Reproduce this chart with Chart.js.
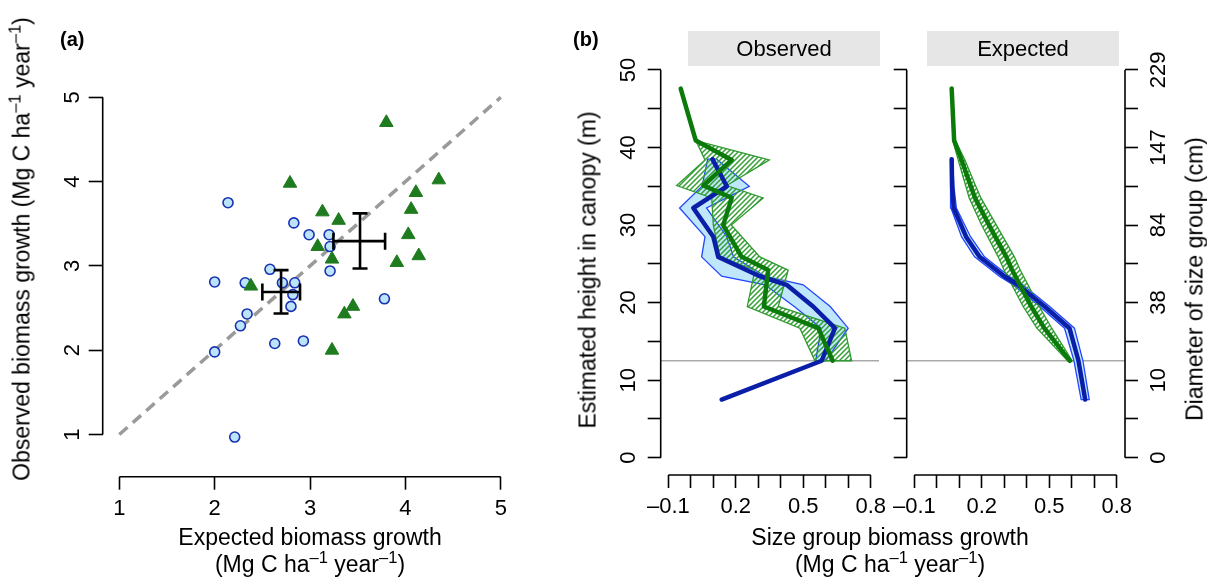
<!DOCTYPE html>
<html>
<head>
<meta charset="utf-8">
<script src="https://cdn.jsdelivr.net/npm/chart.js@4.4.1/dist/chart.umd.min.js"></script>
<style>
  body { margin: 0; background: #fff; font-family: "Liberation Sans", Arial, sans-serif; }
  #page { position: relative; width: 1207px; height: 577px; overflow: hidden; }
  #page canvas { position: absolute; left: 0; top: 0; }
  .t { position: absolute; white-space: nowrap; color: #000; font-size: 23px; line-height: 23px; }
  .rot { transform: translate(-50%, -50%) rotate(-90deg); }
  .hz { transform: translate(-50%, -50%); text-align: center; line-height: 27px; }
  sup { font-size: 0.72em; line-height: 0; vertical-align: 0.55em; }
  .strip { position: absolute; top: 31px; width: 192px; height: 35px; line-height: 35px;
           background: #e6e6e6; font-size: 22px; text-align: center; }
  .lab { position: absolute; top: 28px; font-weight: bold; font-size: 20px; line-height: 22px; }
</style>
</head>
<body>
<div id="page">
  <div class="lab" style="left:60px">(a)</div>
  <div class="lab" style="left:573px">(b)</div>
  <div class="strip" style="left:688px">Observed</div>
  <div class="strip" style="left:927px">Expected</div>
  <div class="t rot" style="left:22px;top:249px">Observed biomass growth (Mg C ha<sup>–1</sup> year<sup>–1</sup>)</div>
  <div class="t hz" style="left:310px;top:551px">Expected biomass growth<br>(Mg C ha<sup>–1</sup> year<sup>–1</sup>)</div>
  <div class="t rot" style="left:588px;top:270px">Estimated height in canopy (m)</div>
  <div class="t hz" style="left:890px;top:551px">Size group biomass growth<br>(Mg C ha<sup>–1</sup> year<sup>–1</sup>)</div>
  <div class="t rot" style="left:1195px;top:279px">Diameter of size group (cm)</div>
</div>
<script>
// ---- panel (a): plot-level growth ----
const circleX = [2.14, 2.83, 2.99, 3.20, 3.21, 2.58, 3.21, 2.00, 2.32, 2.71, 2.84, 2.82, 2.80, 3.78, 2.34, 2.27, 2.63, 2.93, 2.00, 2.21];
const circleY = [3.75, 3.51, 3.37, 3.37, 3.23, 2.96, 2.94, 2.81, 2.80, 2.80, 2.80, 2.66, 2.52, 2.61, 2.43, 2.29, 2.08, 2.11, 1.98, 0.97];
const triX = [3.80, 2.79, 4.35, 4.11, 4.06, 3.13, 3.30, 4.03, 3.08, 4.14, 3.23, 3.91, 2.38, 3.45, 3.36, 3.23];
const triY = [4.70, 3.98, 4.02, 3.87, 3.67, 3.64, 3.54, 3.37, 3.23, 3.12, 3.08, 3.04, 2.76, 2.52, 2.43, 2.00];
// group means with error bars (circles group, triangles group)
const meanX = [2.696, 3.524];
const meanY = [2.69, 3.294];
const errXlo = [2.50, 3.245];
const errXhi = [2.895, 3.787];
const errYlo = [2.436, 2.97];
const errYhi = [2.95, 3.623];
const aTicks = [1, 2, 3, 4, 5];

// ---- panel (b): size group profiles ----
const obsBlueH = [38.5, 35.0, 32.2, 28.5, 25.9, 23.4, 22.3, 19.5, 16.7, 12.5, 7.5];
const obsBlueX = [0.096, 0.16, 0.011, 0.10, 0.122, 0.307, 0.426, 0.544, 0.641, 0.582, 0.137];
const obsBlueBandH = [38.5, 35.0, 32.2, 28.5, 25.9, 23.4, 22.3, 19.5, 16.7, 12.5];
const obsBlueLo = [0.075, 0.05, -0.05, 0.063, 0.048, 0.137, 0.33, 0.46, 0.58, 0.555];
const obsBlueHi = [0.115, 0.26, 0.07, 0.16, 0.19, 0.33, 0.50, 0.62, 0.70, 0.60];

const obsGreenH = [47.6, 40.9, 38.4, 35.1, 33.5, 30.0, 25.9, 24.2, 19.5, 16.7, 12.5];
const obsGreenX = [-0.045, 0.022, 0.182, 0.056, 0.182, 0.144, 0.226, 0.344, 0.325, 0.567, 0.631];
const obsGreenBandH = [40.9, 38.4, 35.1, 33.5, 30.0, 25.9, 24.2, 19.5, 16.7, 12.5];
const obsGreenLo = [0.022, 0.063, -0.063, 0.093, 0.10, 0.13, 0.285, 0.251, 0.485, 0.552];
const obsGreenHi = [0.022, 0.349, 0.16, 0.322, 0.18, 0.307, 0.433, 0.389, 0.685, 0.715];

const expBlueX = [0.066, 0.068, 0.075, 0.13, 0.19, 0.30, 0.36, 0.48, 0.59, 0.63, 0.66];
const expBlueLo = [0.062, 0.060, 0.063, 0.11, 0.168, 0.278, 0.338, 0.458, 0.568, 0.61, 0.642];
const expBlueHi = [0.070, 0.076, 0.087, 0.15, 0.212, 0.322, 0.382, 0.502, 0.612, 0.65, 0.678];

const expGreenX = [0.066, 0.077, 0.11, 0.15, 0.17, 0.232, 0.309, 0.335, 0.42, 0.478, 0.592];
const expGreenLo = [0.071, 0.095, 0.128, 0.144, 0.199, 0.273, 0.299, 0.384, 0.445, 0.582];
const expGreenHi = [0.083, 0.125, 0.172, 0.196, 0.265, 0.345, 0.371, 0.456, 0.511, 0.602];

const minHeight = 12.5;  // horizontal reference line
const bTicks = [-0.1, 0, 0.1, 0.2, 0.3, 0.4, 0.5, 0.6, 0.7, 0.8];
const bTickLabels = ["–0.1", "", "", "0.2", "", "", "0.5", "", "", "0.8"];
const hTicks = [0, 5, 10, 15, 20, 25, 30, 35, 40, 45, 50];
const hTickLabels = ["0", "", "10", "", "20", "", "30", "", "40", "", "50"];
const diamTickLabels = ["0", "", "10", "", "38", "", "84", "", "147", "", "229"];

const BX_MIN = -0.134, BX_MAX = 0.837;

Chart.defaults.font.family = '"Liberation Sans", Arial, sans-serif';
Chart.defaults.color = "#000";

const pts = (xs, ys) => xs.map((v, i) => ({ x: v, y: ys[i] }));
const band = (hs, lo, hi) => {
  const up = hi.map((v, i) => ({ x: v, y: hs[i] }));
  const down = lo.map((v, i) => ({ x: v, y: hs[i] })).reverse();
  return up.concat(down, [up[0]]);
};

function hatch(color) {
  const c = document.createElement("canvas");
  c.width = c.height = 5;
  const g = c.getContext("2d");
  g.strokeStyle = color;
  g.lineWidth = 1.5;
  g.beginPath();
  g.moveTo(-1, 6); g.lineTo(6, -1);
  g.moveTo(-3.5, 3.5); g.lineTo(3.5, -3.5);
  g.moveTo(1.5, 8.5); g.lineTo(8.5, 1.5);
  g.stroke();
  return g.createPattern(c, "repeat");
}

// R-like axis line: only from first to last tick
const rAxis = {
  id: "rAxis",
  afterDraw(chart, args, opts) {
    const ctx = chart.ctx;
    ctx.save();
    ctx.strokeStyle = "#000";
    ctx.lineWidth = 1.6;
    (opts.ids || []).forEach((id) => {
      const s = chart.scales[id];
      const t = s.ticks;
      const a = s.getPixelForValue(t[0].value);
      const b = s.getPixelForValue(t[t.length - 1].value);
      ctx.beginPath();
      if (s.position === "left") { ctx.moveTo(s.right, a); ctx.lineTo(s.right, b); }
      else if (s.position === "right") { ctx.moveTo(s.left, a); ctx.lineTo(s.left, b); }
      else { ctx.moveTo(a, s.top); ctx.lineTo(b, s.top); }
      ctx.stroke();
    });
    ctx.restore();
  },
};

function axis(o) {
  return {
    type: "linear",
    position: o.pos,
    min: o.min,
    max: o.max,
    bounds: "data",
    border: { display: false },
    grid: { display: true, drawOnChartArea: false, drawTicks: true, tickLength: o.tl || 13, tickWidth: 1.6, tickColor: "#000" },
    ticks: {
      display: !!o.labels,
      autoSkip: false,
      color: "#000",
      font: { size: 22 },
      padding: o.pad || 0,
      minRotation: o.rot || 0,
      maxRotation: o.rot || 0,
      crossAlign: o.rot ? "center" : "near",
      callback: (v, i) => (o.labels ? o.labels[i] : ""),
    },
    afterBuildTicks: (s) => { s.ticks = o.vals.map((v) => ({ value: v })); },
    afterFit: (s) => { if (s.isHorizontal()) s.height = o.size; else s.width = o.size; },
  };
}

function addCanvas() {
  const c = document.createElement("canvas");
  c.width = 1207; c.height = 577;
  document.getElementById("page").insertBefore(c, document.getElementById("page").firstChild);
  return c;
}

const base = {
  responsive: false,
  animation: false,
  events: [],
  plugins: { legend: { display: false }, tooltip: { enabled: false } },
};

// ---- panel (a)
const aLabels = aTicks.map(String);
new Chart(addCanvas(), {
  type: "scatter",
  data: {
    datasets: [
      { data: [{ x: errXlo[0], y: meanY[0] }, { x: errXhi[0], y: meanY[0] }], showLine: true, borderColor: "#000", borderWidth: 2.6,
        pointStyle: "line", pointRotation: 90, pointRadius: 8.5, pointBorderWidth: 2.6, pointBorderColor: "#000", order: 0 },
      { data: [{ x: meanX[0], y: errYlo[0] }, { x: meanX[0], y: errYhi[0] }], showLine: true, borderColor: "#000", borderWidth: 2.6,
        pointStyle: "line", pointRotation: 0, pointRadius: 7.5, pointBorderWidth: 2.6, pointBorderColor: "#000", order: 0 },
      { data: [{ x: errXlo[1], y: meanY[1] }, { x: errXhi[1], y: meanY[1] }], showLine: true, borderColor: "#000", borderWidth: 2.6,
        pointStyle: "line", pointRotation: 90, pointRadius: 8.5, pointBorderWidth: 2.6, pointBorderColor: "#000", order: 0 },
      { data: [{ x: meanX[1], y: errYlo[1] }, { x: meanX[1], y: errYhi[1] }], showLine: true, borderColor: "#000", borderWidth: 2.6,
        pointStyle: "line", pointRotation: 0, pointRadius: 7.5, pointBorderWidth: 2.6, pointBorderColor: "#000", order: 0 },
      { data: pts(triX, triY), pointStyle: "triangle", pointRadius: 7.8, pointBackgroundColor: "#1e7b1e",
        pointBorderColor: "#1e7b1e", pointBorderWidth: 1, order: 1 },
      { data: pts(circleX, circleY), pointStyle: "circle", pointRadius: 5, pointBackgroundColor: "#bce3f8",
        pointBorderColor: "#1832b4", pointBorderWidth: 1.6, order: 2 },
      { data: [{ x: 1, y: 1 }, { x: 5, y: 5 }], showLine: true, borderColor: "#9a9a9a", borderWidth: 3.5,
        borderDash: [11, 7], pointRadius: 0, order: 5 },
    ],
  },
  options: {
    ...base,
    layout: { padding: { left: 0, top: 83.8, right: 690, bottom: 0 } },
    scales: {
      x: axis({ pos: "bottom", min: 0.826, max: 5.17, vals: aTicks, labels: aLabels, size: 100.3, pad: 6, tl: 13 }),
      y: axis({ pos: "left", min: 0.5, max: 5.16, vals: aTicks, labels: aLabels, size: 102.7, pad: 10, tl: 14, rot: 90 }),
    },
    plugins: { ...base.plugins, rAxis: { ids: ["x", "y"] } },
  },
  plugins: [rAxis],
});

// ---- panel (b) helpers
function profileSets(blueX, blueBand, greenX, greenBand) {
  return [
    { data: pts(greenX, obsGreenH), showLine: true, borderColor: "#0b7a0b", borderWidth: 4.5, pointRadius: 0,
      borderCapStyle: "round", borderJoinStyle: "round", order: 1 },
    { data: pts(blueX, obsBlueH), showLine: true, borderColor: "#0a1ea8", borderWidth: 4.5, pointRadius: 0,
      borderCapStyle: "round", borderJoinStyle: "round", order: 2 },
    { data: greenBand, showLine: true, fill: "shape", backgroundColor: hatch("#34a034"), borderColor: "#2f9a2f",
      borderWidth: 1.3, pointRadius: 0, order: 3 },
    { data: blueBand, showLine: true, fill: "shape", backgroundColor: "#bfe6fb", borderColor: "#2346ff",
      borderWidth: 1.3, pointRadius: 0, order: 4 },
    { data: [{ x: BX_MIN, y: minHeight }, { x: BX_MAX, y: minHeight }], showLine: true, borderColor: "#aaaaaa",
      borderWidth: 1.3, pointRadius: 0, order: 5 },
  ];
}

// observed
new Chart(addCanvas(), {
  type: "scatter",
  data: {
    datasets: profileSets(
      obsBlueX, band(obsBlueBandH, obsBlueLo, obsBlueHi),
      obsGreenX, band(obsGreenBandH, obsGreenLo, obsGreenHi)
    ),
  },
  options: {
    ...base,
    layout: { padding: { left: 560, top: 52.9, right: 328, bottom: 0 } },
    scales: {
      x: axis({ pos: "bottom", min: BX_MIN, max: BX_MAX, vals: bTicks, labels: bTickLabels, size: 102, pad: 6 }),
      y: axis({ pos: "left", min: -2.23, max: 52.2, vals: hTicks, labels: hTickLabels, size: 100.7, pad: 7, rot: 90 }),
    },
    plugins: { ...base.plugins, rAxis: { ids: ["x", "y"] } },
  },
  plugins: [rAxis],
});

// expected
new Chart(addCanvas(), {
  type: "scatter",
  data: {
    datasets: profileSets(
      expBlueX, band(obsBlueH, expBlueLo, expBlueHi),
      expGreenX, band(obsGreenBandH, expGreenLo, expGreenHi)
    ),
  },
  options: {
    ...base,
    layout: { padding: { left: 880, top: 52.9, right: 0, bottom: 0 } },
    scales: {
      x: axis({ pos: "bottom", min: BX_MIN, max: BX_MAX, vals: bTicks, labels: bTickLabels, size: 102, pad: 6 }),
      y: axis({ pos: "left", min: -2.23, max: 52.2, vals: hTicks, labels: null, size: 26.7 }),
      y2: axis({ pos: "right", min: -2.23, max: 52.2, vals: hTicks, labels: diamTickLabels, size: 82, pad: 3, rot: 90 }),
    },
    plugins: { ...base.plugins, rAxis: { ids: ["x", "y", "y2"] } },
  },
  plugins: [rAxis],
});
</script>
</body>
</html>
